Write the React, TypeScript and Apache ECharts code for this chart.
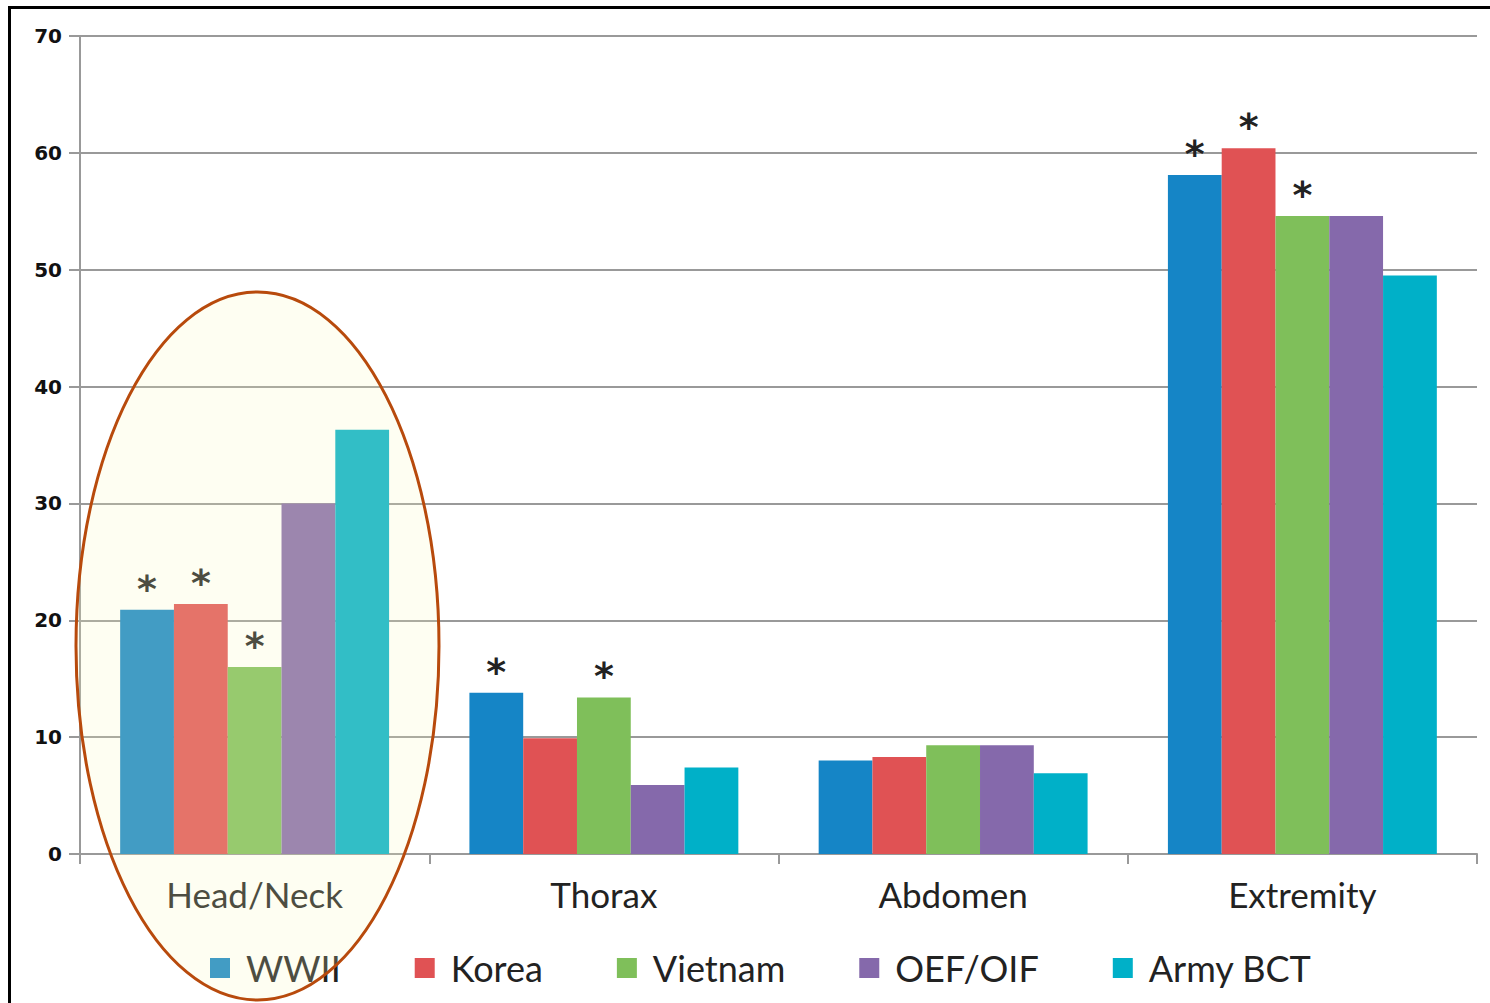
import React, { useEffect, useRef } from "react";
import * as echarts from "echarts";

const categories = ["Head/Neck", "Thorax", "Abdomen", "Extremity"];
const seriesNames = ["WWII", "Korea", "Vietnam", "OEF/OIF", "Army BCT"];
const wwii = [20.9, 13.8, 8.0, 58.1];
const korea = [21.4, 9.9, 8.3, 60.4];
const vietnam = [16.0, 13.4, 9.3, 54.6];
const oefOif = [30.0, 5.9, 9.3, 54.6];
const armyBct = [36.3, 7.4, 6.9, 49.5];
const wwiiStar = [true, true, false, true];
const koreaStar = [true, false, false, true];
const vietnamStar = [true, true, false, true];
const oefOifStar = [false, false, false, false];
const armyBctStar = [false, false, false, false];
const yTicks = [0, 10, 20, 30, 40, 50, 60, 70];

const colors = ["#1585c6", "#e05254", "#7fbf5a", "#8569ab", "#00b0c8"];
const allValues = [wwii, korea, vietnam, oefOif, armyBct];
const allStars = [wwiiStar, koreaStar, vietnamStar, oefOifStar, armyBctStar];

export default function App() {
  const ref = useRef<HTMLDivElement>(null);
  useEffect(() => {
    if (!ref.current) return;
    const chart = echarts.init(ref.current, undefined, { renderer: "svg" });
    const series = seriesNames.map((name, i) => ({
      name,
      type: "bar",
      barGap: "0%",
      barCategoryGap: "23%",
      itemStyle: { color: colors[i] },
      data: allValues[i].map((v, j) => ({
        value: v,
        label: {
          show: allStars[i][j],
          position: "top",
          formatter: "*",
          fontSize: 38,
          fontWeight: "bold",
          fontFamily: "DejaVu Sans",
          color: "#222",
          distance: 2,
        },
      })),
    }));
    chart.setOption({
      animation: false,
      backgroundColor: "#ffffff",
      grid: { left: 80, right: 13, top: 36, bottom: 149 },
      legend: {
        data: seriesNames,
        left: 205,
        top: 945,
        itemWidth: 20,
        itemHeight: 20,
        itemGap: 74,
        icon: "rect",
        textStyle: { fontSize: 36, fontFamily: "Lato", color: "#222", padding: [0, 0, 0, 11] },
      },
      xAxis: {
        type: "category",
        data: categories,
        axisLine: { lineStyle: { color: "#999", width: 2 } },
        axisTick: { show: true, length: 10, lineStyle: { color: "#999", width: 2 } },
        axisLabel: { fontSize: 35, fontFamily: "Lato", color: "#222", margin: 22 },
      },
      yAxis: {
        type: "value",
        min: 0,
        max: 70,
        interval: 10,
        axisLine: { show: true, lineStyle: { color: "#999", width: 2 } },
        axisTick: { show: true, length: 11, lineStyle: { color: "#999", width: 2 } },
        splitLine: { lineStyle: { color: "#999", width: 2 } },
        axisLabel: {
          fontSize: 20,
          fontWeight: "bold",
          fontFamily: "DejaVu Sans",
          color: "#111",
          margin: 18,
          formatter: (v: number) => (yTicks.includes(v) ? String(v) : ""),
        },
      },
      series,
      graphic: [
        {
          type: "ellipse",
          z: 100,
          shape: { cx: 257.5, cy: 646, rx: 181.5, ry: 354 },
          style: { fill: "rgba(250,250,190,0.2)", stroke: "#b84a0c", lineWidth: 3 },
        },
        {
          type: "line",
          z: 101,
          shape: { x1: 8, y1: 7.5, x2: 1490, y2: 7.5 },
          style: { stroke: "#000", lineWidth: 3 },
        },
        {
          type: "line",
          z: 101,
          shape: { x1: 9.5, y1: 6, x2: 9.5, y2: 1003 },
          style: { stroke: "#000", lineWidth: 3 },
        },
      ],
    });
    return () => chart.dispose();
  }, []);
  return (
    <div
      ref={ref}
      style={{ position: "absolute", left: 0, top: 0, width: 1490, height: 1003 }}
    />
  );
}
